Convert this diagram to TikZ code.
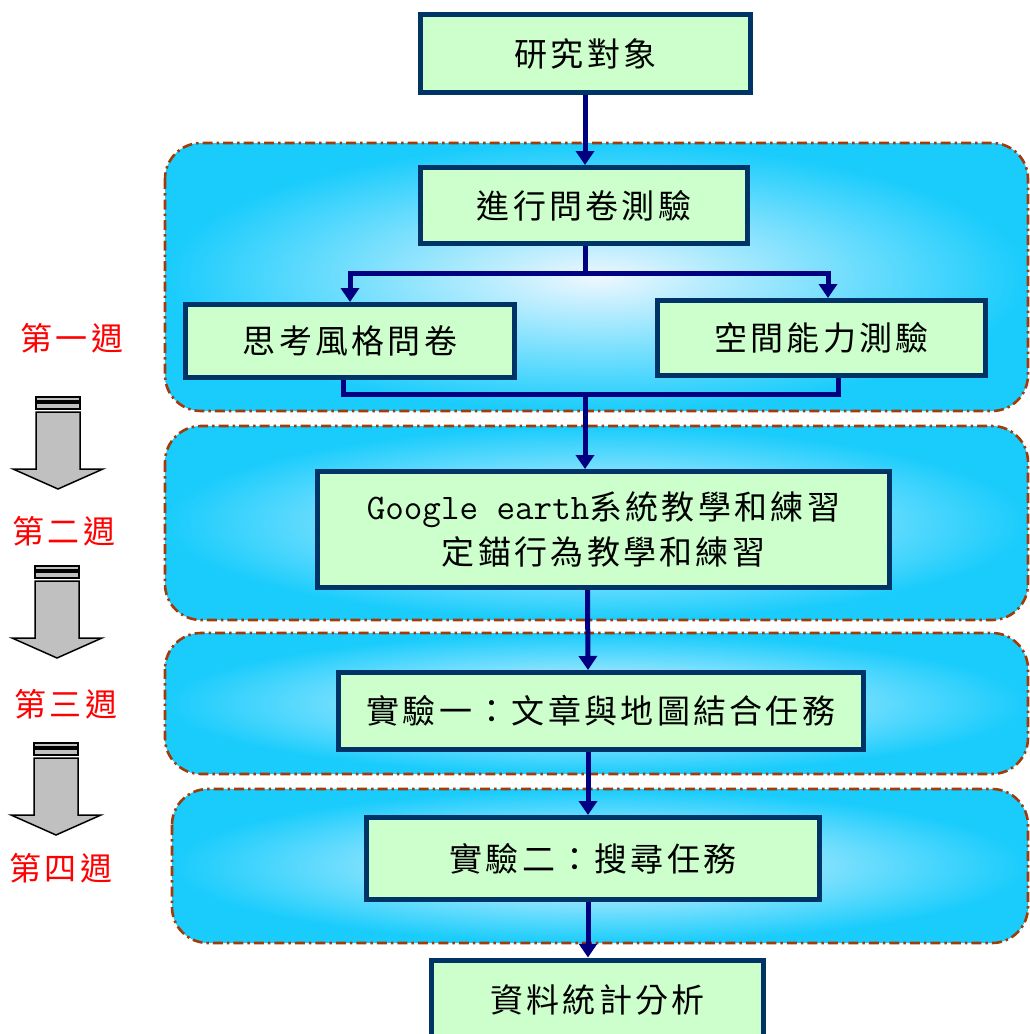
\documentclass[tikz,border=0pt]{standalone}
\usepackage{fontspec}
\usetikzlibrary{arrows.meta,calc}
\newfontfamily\cjk[LetterSpace=10]{Noto Sans CJK TC}
\definecolor{boxfill}{RGB}{204,255,204}
\definecolor{boxdraw}{RGB}{0,51,102}
\definecolor{arrowc}{RGB}{0,0,128}
\definecolor{bandcyan}{RGB}{25,204,252}
\definecolor{bandlight}{RGB}{238,247,255}
\definecolor{bandborder}{RGB}{160,60,10}
\definecolor{blockgray}{RGB}{192,192,192}
\tikzset{
  box/.style={draw=boxdraw, line width=5pt, fill=boxfill, inner sep=0pt, align=center,
    font=\cjk\fontsize{33}{45}\selectfont},
  band/.style={rounded corners=36pt, draw=bandborder, line width=2.6pt,
    dash pattern=on 10pt off 4pt on 2.5pt off 4pt, inner color=bandlight, outer color=bandcyan},
  conn/.style={draw=arrowc, line width=5pt, -{Triangle[width=18pt,length=14pt]}},
  link/.style={draw=arrowc, line width=5pt},
  week/.style={text=red, inner sep=0pt, font=\cjk\fontsize{32}{36}\selectfont},
  weekarr/.pic={
    \path[fill=blockgray, draw=black, line width=1.1pt] (0,0) rectangle (44,4);
    \path[fill=blockgray, draw=black, line width=1.1pt] (0,6) rectangle (44,12);
    \path[fill=blockgray, draw=black, line width=1.5pt, line join=miter]
      (0,15) -- (0,72) -- (-23,72) -- (22,92) -- (67,72) -- (44,72) -- (44,15) -- cycle;
  }
}
\begin{document}
\begin{tikzpicture}[x=1pt,y=-1pt]
\useasboundingbox (0,0) rectangle (1029,1034);
% bands
\draw[band] (165,143) rectangle (1028,411);
\draw[band] (165,426) rectangle (1028,620);
\draw[band] (165,633) rectangle (1028,774);
\draw[band] (172,789) rectangle (1028,943);
% week labels
\node[week] (w1) at (72,338) {第一週};
\node[week] (w2) at (64,531) {第二週};
\node[week] (w3) at (66,704) {第三週};
\node[week] (w4) at (61,868) {第四週};
\pic at (36,397) {weekarr};
\pic at (35,566) {weekarr};
\pic at (34,743) {weekarr};
% boxes
\node[box, minimum width=330pt, minimum height=78pt] (b0) at (585.5,53.5) {研究對象};
\node[box, minimum width=327pt, minimum height=76pt] (b1) at (584,205.5) {進行問卷測驗};
\node[box, minimum width=329pt, minimum height=73pt] (b2) at (350,341) {思考風格問卷};
\node[box, minimum width=328pt, minimum height=75pt] (b3) at (821.5,338) {空間能力測驗};
\node[box, minimum width=572pt, minimum height=116pt] (b4) at (603.5,529.5)
  {{\ttfamily\fontsize{36}{45}\selectfont Google earth}系統教學和練習\\定錨行為教學和練習};
\node[box, minimum width=525pt, minimum height=77pt] (b5) at (601,711) {實驗一：文章與地圖結合任務};
\node[box, minimum width=453pt, minimum height=82pt] (b6) at (593,858.5) {實驗二：搜尋任務};
\node[box, minimum width=332pt, minimum height=80pt] (b7) at (597.5,1000) {資料統計分析};
% connectors
\coordinate (sp) at (585,273);
\coordinate (mg) at (585,394);
\draw[conn] (b0.south -| sp) -- (b1.north -| sp);
\draw[link] (b1.south -| sp) -- (sp);
\draw[conn] (sp) -| (b2.north);
\draw[conn] (sp) -| ([xshift=6.5pt]b3.north);
\draw[link, line join=miter] ([xshift=-7pt]b2.south) |- ([xshift=16.5pt]b3.south |- mg) -- ([xshift=16.5pt]b3.south);
\draw[conn] (mg) -- (mg |- b4.north);
\draw[conn] ([xshift=-16pt]b4.south) -- ([xshift=-13pt]b5.north);
\draw[conn] ([xshift=-13pt]b5.south) -- ([xshift=-5pt]b6.north);
\draw[conn] ([xshift=-5pt]b6.south) -- ([xshift=-9.5pt]b7.north);
\end{tikzpicture}
\end{document}
